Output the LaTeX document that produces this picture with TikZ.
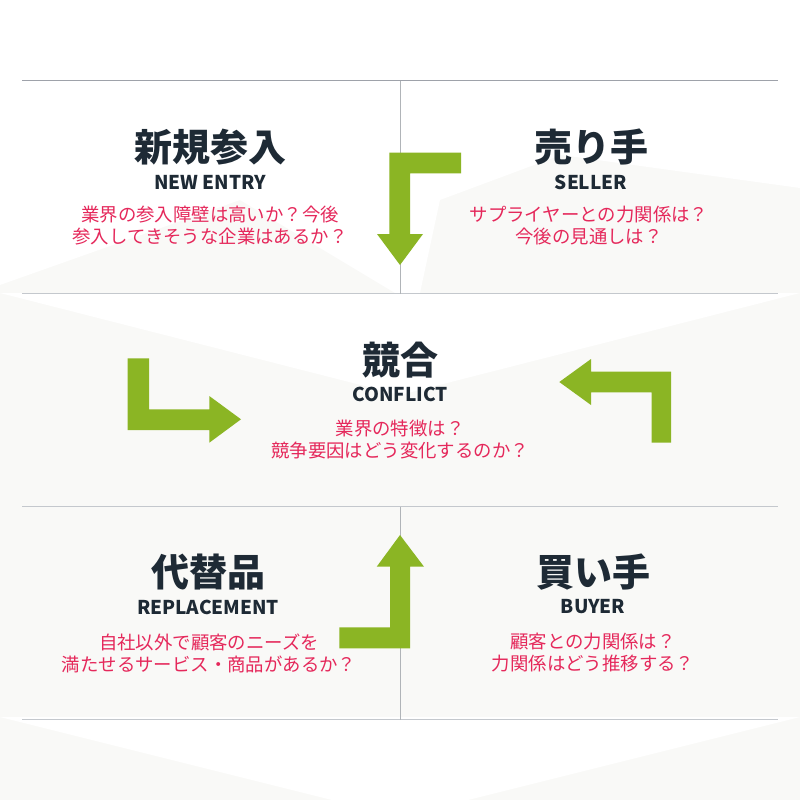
\documentclass[tikz,border=0pt]{standalone}
\usepackage{fontspec}
\newfontfamily\jp{Noto Sans CJK JP}
\definecolor{bggray}{HTML}{F9F9F7}
\definecolor{titlec}{HTML}{1E2A35}
\definecolor{pinkc}{HTML}{E5285B}
\definecolor{greenc}{HTML}{8BB524}
\definecolor{linec}{HTML}{C4C8CD}
\definecolor{topline}{HTML}{9EA2AA}
\tikzset{
  ttl/.style={font=\jp\bfseries\fontsize{38}{40}\selectfont, text=titlec, inner sep=0pt},
  sub/.style={font=\jp\bfseries\fontsize{19}{21}\selectfont, text=titlec, inner sep=0pt},
  qst/.style={font=\jp\fontsize{18.4}{22}\selectfont, text=pinkc, align=center, inner sep=0pt},
  blockarrow/.style={fill=greenc, draw=none},
  rule/.style={draw=linec, line width=1.3pt},
  vrule/.style={draw=linec!90!black, line width=1pt}
}
\begin{document}
\begin{tikzpicture}[x=1pt,y=-1pt]
\useasboundingbox (0,0) rectangle (800,800);
% background
\fill[bggray] (0,0) rectangle (800,800);
\fill[white] (0,0) -- (800,0) -- (800,188) -- (561,155) -- (440,200) -- (420,293) -- (395,293) -- (240,200) -- (0,285) -- cycle;
\fill[white] (0,293) -- (800,293) -- (400,395) -- cycle;
\fill[white] (0,717) -- (800,717) -- (400,817) -- cycle;
% rules
\draw[draw=topline, line width=1.8pt] (22,80.5) -- (778,80.5);
\draw[rule] (22,293.5) -- (778,293.5);
\draw[rule] (22,506.5) -- (778,506.5);
\draw[rule] (22,719.5) -- (778,719.5);
\draw[vrule] (400,80.5) -- (400,293.5);
\draw[vrule] (400,506.5) -- (400,719.5);
% arrows
\fill[blockarrow] (389.3,152.7) -- (461,152.7) -- (461,173.3) -- (410,173.3) -- (410,234) -- (423,234) -- (400,265) -- (377,234) -- (389.3,234) -- cycle;
\fill[blockarrow] (127.7,358.3) -- (149,358.3) -- (149,409.3) -- (209.3,409.3) -- (209.3,396) -- (241,419.3) -- (209.3,442.7) -- (209.3,430) -- (127.7,430) -- cycle;
\fill[blockarrow] (559.3,382) -- (591,359) -- (591,371.7) -- (671,371.7) -- (671,442.7) -- (651.7,442.7) -- (651.7,392.3) -- (591,392.3) -- (591,405) -- cycle;
\fill[blockarrow] (400,535) -- (424,566.7) -- (410,566.7) -- (410,648.3) -- (339.3,648.3) -- (339.3,627.3) -- (390,627.3) -- (390,566.7) -- (376.7,566.7) -- cycle;
% top-left
\node[ttl] (t1) at (210,147) {新規参入};
\node[sub] (s1) at (210,182) {NEW ENTRY};
\node[qst] (q1) at (210,226) {業界の参入障壁は高いか？今後\\参入してきそうな企業はあるか？};
% top-right
\node[ttl] (t2) at (591,147) {売り手};
\node[sub] (s2) at (591,182) {SELLER};
\node[qst] (q2) at (589,226) {サプライヤーとの力関係は？\\今後の見通しは？};
% middle
\node[ttl] (t3) at (400,360) {競合};
\node[sub] (s3) at (400,394) {CONFLICT};
\node[qst] (q3) at (400,439.5) {業界の特徴は？\\競争要因はどう変化するのか？};
% bottom-left
\node[ttl] (t4) at (208,572) {代替品};
\node[sub] (s4) at (208,607) {REPLACEMENT};
\node[qst] (q4) at (209,653) {自社以外で顧客のニーズを\\満たせるサービス・商品があるか？};
% bottom-right
\node[ttl] (t5) at (593,572) {買い手};
\node[sub] (s5) at (593,607) {BUYER};
\node[qst] (q5) at (593,653) {顧客との力関係は？\\力関係はどう推移する？};
\end{tikzpicture}
\end{document}
